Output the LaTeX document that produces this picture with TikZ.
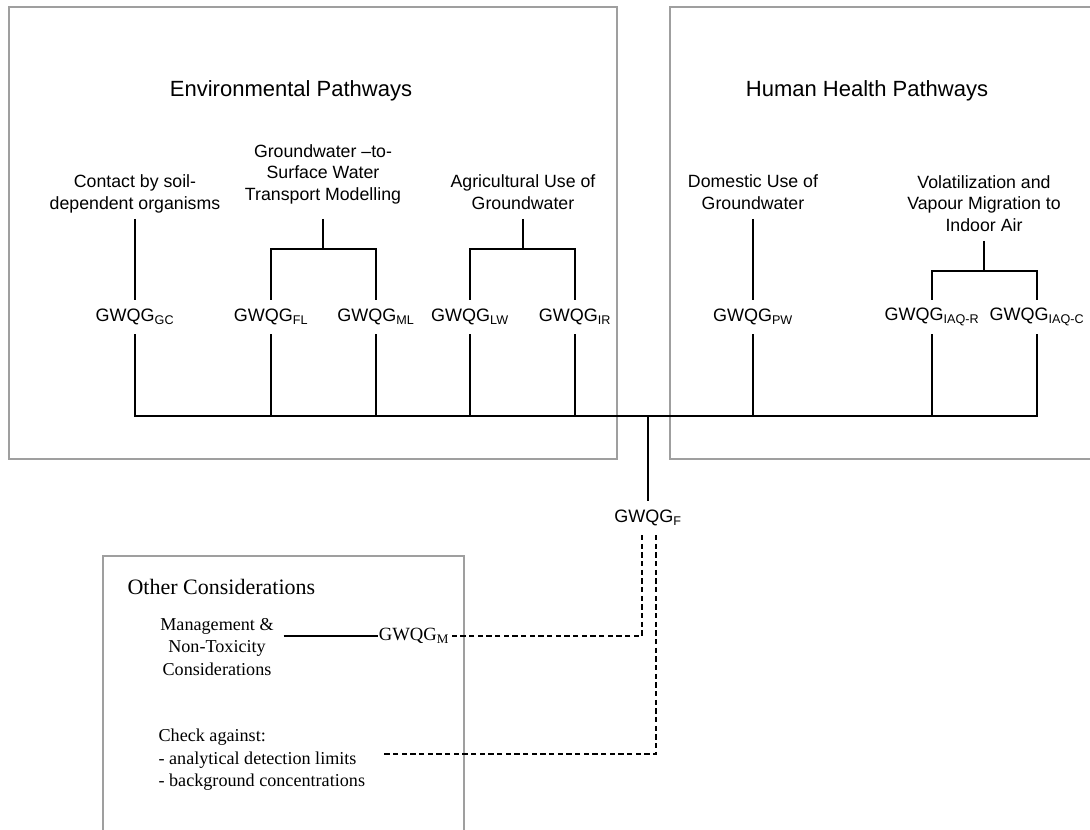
\documentclass[tikz,border=0pt]{standalone}
\usepackage{fontspec}
\setmainfont{Liberation Sans}
\newfontfamily\timesface{Liberation Serif}
\usetikzlibrary{calc}
\usetikzlibrary{positioning}

\tikzset{
    panel/.style={draw=gray!75, line width=1pt, inner sep=0pt},
    heading/.style={font=\fontsize{16.5}{19}\selectfont, inner sep=0pt},
    pathlbl/.style={align=center, inner sep=2pt, anchor=south,
        font=\fontsize{13.3}{16.1}\selectfont},
    gwqg/.style={inner sep=0pt, minimum height=24.75pt,
        font=\fontsize{13.5}{16}\selectfont},
    othertxt/.style={inner sep=0pt, font=\timesface\fontsize{13.6}{16.8}\selectfont},
    dashlink/.style={dash pattern=on 4pt off 2.5pt, line width=0.8pt}
}

\begin{document}
\begin{tikzpicture}[
    x=0.75pt, y=-0.75pt,
    line width=0.9pt
]
\useasboundingbox (0,0) rectangle (1090,830);

% ===============================================================
% ==== Panels ====
% ===============================================================
\node[panel, minimum width=456pt, minimum height=339pt] (env) at (313,233) {};
\node[panel, minimum width=330pt, minimum height=339pt] (hh) at (890,233) {};
\node[panel, line width=1.8pt, minimum width=270.75pt, minimum height=228pt] (other) at (283.5,708) {};

\node[heading] (envtitle) at (291,91) {Environmental Pathways};
\node[heading] (hhtitle) at (867,91) {Human Health Pathways};

% ===============================================================
% ==== Environmental Pathways ====
% ===============================================================
\node[pathlbl] (contact) at (135,219) {Contact by soil-\\dependent organisms\strut};
\node[pathlbl] (gwts) at (323,210) {Groundwater --to-\\Surface Water\\Transport Modelling\strut};
\node[pathlbl] (agri) at (523,219) {Agricultural Use of\\Groundwater\strut};

\node[gwqg] (gc) at (135,317) {GWQG\textsubscript{GC}};
\node[gwqg] (fl) at (271,317) {GWQG\textsubscript{FL}};
\node[gwqg] (ml) at (376,317) {GWQG\textsubscript{ML}};
\node[gwqg] (lw) at (470,317) {GWQG\textsubscript{LW}};
\node[gwqg] (ir) at (575,317) {GWQG\textsubscript{IR}};

% ===============================================================
% ==== Human Health Pathways ====
% ===============================================================
\node[pathlbl] (dom) at (753,219) {Domestic Use of\\Groundwater\strut};
\node[pathlbl] (vol) at (984,241) {Volatilization and\\Vapour Migration to\\Indoor Air\strut};

\node[gwqg] (pw) at (753,317) {GWQG\textsubscript{PW}};
\node[gwqg] (iaqr) at (932,317) {GWQG\textsubscript{IAQ-R}};
\node[gwqg] (iaqc) at (1037,317) {GWQG\textsubscript{IAQ-C}};

% === Final guideline ===
\node[gwqg] (gwqgf) at (648,518) {GWQG\textsubscript{F}};

% ===============================================================
% ==== Other Considerations ====
% ===============================================================
\node[othertxt, font=\timesface\fontsize{16.5}{19}\selectfont, anchor=west] (othertitle) at (127,587) {Other Considerations};
\node[othertxt, align=center] (mgmt) at (217,647) {Management \&\\Non-Toxicity\\Considerations};
\node[othertxt, font=\timesface\fontsize{14}{16}\selectfont] (gwqgm) at (414,636) {GWQG\textsubscript{M}};
\node[othertxt, align=left, anchor=west] (chk) at (158,760) {Check against:\\- analytical detection limits\\- background concentrations};

% ===============================================================
% ==== Connectors ====
% ===============================================================
\coordinate (bus) at (0,416);

% label -> GWQG
\draw (contact.south) -- (gc.north);
\draw (dom.south) -- (pw.north);
\draw ([yshift=-6.75pt]gwts.south) -- ++(0,30) coordinate (gwbr);
\draw (fl.north) |- (gwbr) -| (ml.north);
\draw (agri.south) -- ++(0,30) coordinate (agbr);
\draw (lw.north) |- (agbr) -| (ir.north);
\draw (vol.south) -- ++(0,30) coordinate (volbr);
\draw (iaqr.north) |- (volbr) -| (iaqc.north);

% GWQG -> bus
\draw (gc.south) |- (iaqc.south |- bus) -- (iaqc.south);
\foreach \n in {fl,ml,lw,ir,pw,iaqr}
    \draw (\n.south) -- (\n.south |- bus);
\draw (gwqgf.north |- bus) -- (gwqgf.north);

% other considerations
\draw ([xshift=7pt]mgmt.east |- gwqgm.west) -- (gwqgm.west);
\draw[dashlink] ([xshift=-4.5pt]gwqgf.south) |- (gwqgm.east);
\draw[dashlink] ([xshift=6pt]gwqgf.south) |- ([xshift=12pt, yshift=4.5pt]chk.east);

\end{tikzpicture}
\end{document}
